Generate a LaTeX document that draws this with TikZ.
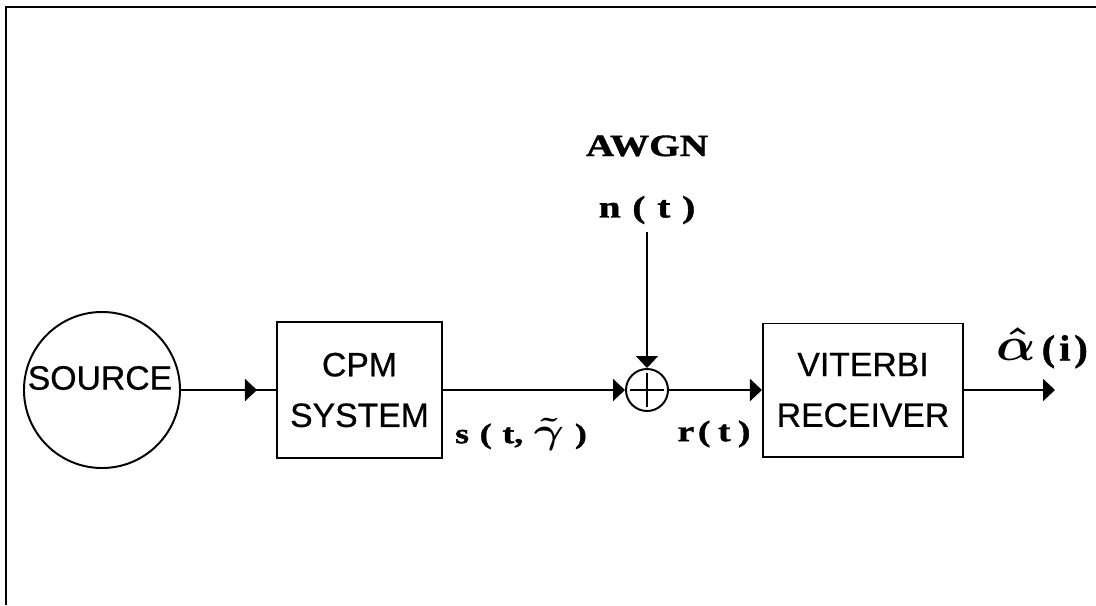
\documentclass[tikz,border=0pt]{standalone}
\usepackage{amsmath,bm}
\usepackage{fontspec}
\newfontfamily\arialfont{Liberation Sans}[FakeBold=0.6]
\newfontfamily\timesfont{Liberation Serif}[BoldFeatures={FakeBold=1.2}]
\usetikzlibrary{arrows.meta,calc,decorations.markings}

\newcommand{\wide}[1]{\scalebox{1.27}[1]{#1}}
\newcommand{\gap}{\hspace{.3em}}

\tikzset{
  sig/.style={line width=1.4pt},
  sigarrow/.style={sig,-{Triangle[length=0.3cm,width=0.55cm]}},
  midarrow/.style={sig,decoration={markings,mark=at position #1 with {\arrow{Triangle[length=0.3cm,width=0.55cm]}}},postaction={decorate}},
  boxtxt/.style={font=\arialfont\fontsize{24}{36}\selectfont,align=center,inner sep=0pt},
  block/.style={draw,sig,boxtxt},
  lbl/.style={font=\timesfont\bfseries\boldmath\fontsize{#1}{#1}\selectfont,inner sep=0.2cm},
}

\begin{document}
\begin{tikzpicture}[x=0.025cm,y=-0.025cm]
\useasboundingbox (0,0) rectangle (1096,605);
% frame, open at right and bottom
\draw[line width=2pt] (6,605) |- (1096,7);

% blocks
\node[block,circle,minimum size=3.9cm] (src) at (102,390) {};
\node[boxtxt] (srctext) at (100,378) {SOURCE};
\node[block,minimum width=4.125cm,minimum height=3.4cm] (cpm) at (359.5,390) {CPM\\SYSTEM};
\node[draw,sig,circle,minimum size=1.05cm,inner sep=0pt] (sum) at (647,390) {};
\draw[sig] ($(sum.north)!0.12!(sum.south)$) -- ($(sum.south)!0.12!(sum.north)$);
\draw[sig] ($(sum.west)!0.12!(sum.east)$) -- ($(sum.east)!0.12!(sum.west)$);
\node[block,minimum width=5cm,minimum height=3.325cm] (vit) at (863,390) {VITERBI\\RECEIVER};
\coordinate (out) at (1055,390);

% labels
\node[lbl=22] (awgn) at (647,146) {\wide{AWGN}};
\node[lbl=22] (noise) at (647,210) {\wide{n\gap(\gap t\gap)}};
\node[lbl=20] (slbl) at (521,434) {\wide{s\gap(\gap t,\gap\scalebox{1.25}{$\tilde{\gamma}$}\gap)}};
\node[lbl=21] (rlbl) at (714,434) {\wide{r\hspace{.1em}(\hspace{.2em}t\hspace{.2em})}};
\node[lbl=26] (outlbl) at (1042,348) {\scalebox{1.1}[1]{\scalebox{1.35}{$\hat{\alpha}$}\hspace{.15em}(\hspace{.1em}i\hspace{.1em})}};

% signal flow
\draw[midarrow=0.8] (src) -- (cpm);
\draw[sigarrow] (cpm) -- (sum);
\draw[sigarrow] (noise) -- (sum);
\draw[sigarrow] (sum) -- (vit);
\draw[sigarrow] (vit) -- (out);
\end{tikzpicture}
\end{document}
